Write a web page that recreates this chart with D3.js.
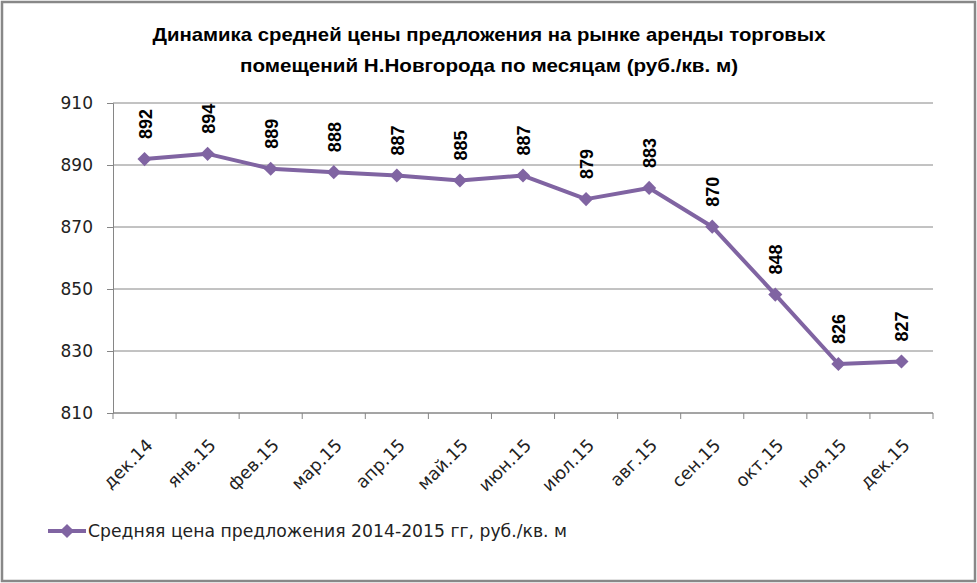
<!DOCTYPE html>
<html><head><meta charset="utf-8">
<script src="https://cdn.jsdelivr.net/npm/d3@7"></script>
<style>body{margin:0;background:#fff}svg{display:block}</style>
</head><body>
<svg id="c" width="977" height="583"></svg>
<script>
const months = ["дек.14","янв.15","фев.15","мар.15","апр.15","май.15","июн.15","июл.15","авг.15","сен.15","окт.15","ноя.15","дек.15"];
const prices = [891.9, 893.6, 888.8, 887.7, 886.6, 885.0, 886.6, 879.0, 882.6, 870.1, 848.2, 825.8, 826.6];
const yTicks = [810, 830, 850, 870, 890, 910];
const titleLines = ["Динамика средней цены предложения на рынке аренды торговых", "помещений Н.Новгорода  по месяцам (руб./кв. м)"];
const seriesName = "Средняя цена предложения 2014-2015 гг,  руб./кв. м";

const svg = d3.select("#c");
const W = 977, H = 583;
const m = {left: 113, right: 933, top: 103, bottom: 413};
const purple = "#8064A2", grid = "#868686";
const font = "'Liberation Sans', Arial, sans-serif";
const axFont = "'DejaVu Sans', Verdana, sans-serif";

svg.append("rect").attr("x", 2).attr("y", 2).attr("width", W - 4).attr("height", H - 4)
  .attr("fill", "#fff").attr("stroke", "#888").attr("stroke-width", 2.5);

const x = d3.scaleBand().domain(months).range([m.left, m.right]);
const y = d3.scaleLinear().domain([810, 910]).range([m.bottom, m.top]);

// gridlines
svg.append("g").selectAll("line").data(yTicks).join("line")
  .attr("x1", m.left).attr("x2", m.right)
  .attr("y1", d => y(d)).attr("y2", d => y(d))
  .attr("stroke", grid).attr("stroke-width", 1);

// y axis
const ya = svg.append("g").attr("transform", `translate(${m.left},0)`)
  .call(d3.axisLeft(y).tickValues(yTicks).tickSize(6).tickPadding(14));
ya.select(".domain").attr("stroke", grid);
ya.selectAll(".tick line").attr("stroke", grid);
ya.selectAll("text").attr("font-family", axFont).attr("font-size", 17).attr("fill", "#222");

// x axis
const xa = svg.append("g").attr("transform", `translate(0,${m.bottom})`);
xa.append("line").attr("x1", m.left).attr("x2", m.right).attr("stroke", grid);
const bounds = months.map(d => x(d)).concat([m.right]);
xa.selectAll("line.t").data(bounds).join("line").attr("class", "t")
  .attr("x1", d => d).attr("x2", d => d).attr("y1", 0).attr("y2", 6).attr("stroke", grid);
xa.selectAll("text").data(months).join("text")
  .attr("transform", d => `translate(${x(d) + x.bandwidth() / 2 + 5},${29}) rotate(-45)`)
  .attr("text-anchor", "end").attr("dy", "0.35em")
  .attr("font-family", axFont).attr("font-size", 17.5).attr("fill", "#222")
  .text(d => d);

// line
const cx = d => x(d) + x.bandwidth() / 2;
const line = d3.line().x((d, i) => cx(months[i])).y(d => y(d));
svg.append("path").datum(prices).attr("d", line)
  .attr("fill", "none").attr("stroke", purple).attr("stroke-width", 4).attr("stroke-linejoin", "round");
const diamond = d3.symbol().type(d3.symbolSquare).size(100);
svg.append("g").selectAll("path").data(prices).join("path")
  .attr("d", diamond)
  .attr("transform", (d, i) => `translate(${cx(months[i])},${y(d)}) rotate(45)`)
  .attr("fill", purple);

// labels
svg.append("g").selectAll("text").data(prices).join("text")
  .attr("transform", (d, i) => `translate(${cx(months[i]) + 7},${y(d) - 20}) rotate(-90)`)
  .attr("font-family", font).attr("font-size", 18).attr("font-weight", "bold").attr("fill", "#000")
  .text(d => d3.format(".0f")(d));

// title
svg.append("g").selectAll("text").data(titleLines).join("text")
  .attr("x", 489).attr("y", (d, i) => 41 + i * 31)
  .attr("text-anchor", "middle").attr("font-family", font).attr("font-weight", "bold")
  .attr("font-size", 19).attr("fill", "#000")
  .attr("textLength", (d, i) => i === 0 ? 673 : 498).attr("lengthAdjust", "spacingAndGlyphs")
  .text(d => d);

// legend
const lg = svg.append("g").attr("transform", "translate(48,531)");
lg.append("line").attr("x1", 0).attr("x2", 38).attr("stroke", purple).attr("stroke-width", 4);
lg.append("path").attr("d", diamond).attr("transform", "translate(19,0) rotate(45)").attr("fill", purple);
lg.append("text").attr("x", 40).attr("y", 0).attr("dy", "0.35em")
  .attr("font-family", axFont).attr("font-size", 17).attr("fill", "#222")
  .attr("textLength", 479).attr("lengthAdjust", "spacingAndGlyphs")
  .text(seriesName);
</script>
</body></html>
